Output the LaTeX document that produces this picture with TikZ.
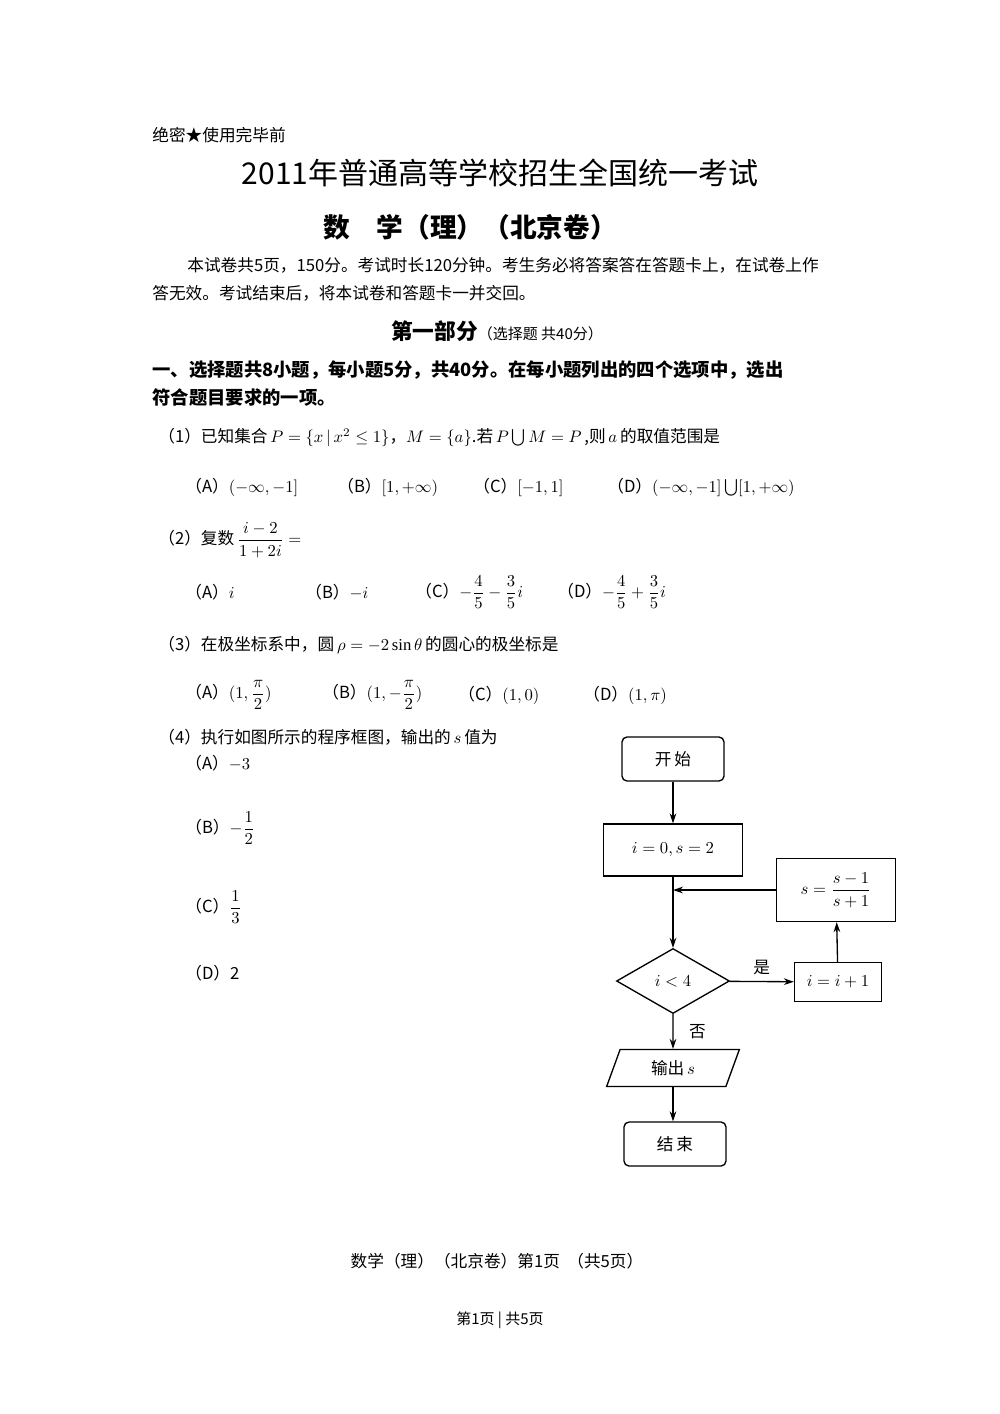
\documentclass[tikz,border=0pt]{standalone}
\usepackage{fontspec}
\usepackage{amsmath}
\setmainfont{Liberation Serif}
\newfontfamily\cjk{Noto Sans CJK SC}
\usetikzlibrary{shapes.geometric,arrows.meta}
\begin{document}
\begin{tikzpicture}[x=0.6pt,y=-0.6pt,
  txt/.style={anchor=west,inner sep=0,font=\fontsize{10}{12}\selectfont\cjk},
  box/.style={draw,thick,minimum width=#1*0.6pt,inner sep=0,font=\fontsize{10}{12}\selectfont\cjk},
  arr/.style={thick,-{Stealth[length=6pt,width=4pt]}}]
\useasboundingbox (0,0) rectangle (1000,1414);
\fill[white] (0,0) rectangle (1000,1414);
\node[txt] (h0) at (152,135) {绝密★使用完毕前};
\node[inner sep=0,font=\fontsize{18}{22}\selectfont\cjk] (h1) at (500,173) {2011年普通高等学校招生全国统一考试};
\node[inner sep=0,font=\fontsize{16}{20}\selectfont\cjk\bfseries] (h2) at (470,227) {数\hspace{1em}学（理）（北京卷）};
\node[txt] (p1) at (187,265) {本试卷共5页，150分。考试时长120分钟。考生务必将答案答在答题卡上，在试卷上作};
\node[txt] (p2) at (152,293) {答无效。考试结束后，将本试卷和答题卡一并交回。};
\node[inner sep=0] (s1) at (497,331) {{\fontsize{13}{15}\selectfont\cjk\bfseries 第一部分}{\fontsize{9}{11}\selectfont\cjk（选择题 共40分）}};
\node[txt,font=\fontsize{11}{13}\selectfont\cjk\bfseries] (b1) at (152,370) {一、选择题共8小题，每小题5分，共40分。在每小题列出的四个选项中，选出};
\node[txt,font=\fontsize{11}{13}\selectfont\cjk\bfseries] (b2) at (152,398) {符合题目要求的一项。};
% Q1
\node[txt] (q1) at (158,437) {（1）已知集合\,$P=\{x\,|\,x^2\le 1\}$，$M=\{a\}$.若\,$P\bigcup M=P$\,,则\,$a$\,的取值范围是};
\node[txt] (q1a) at (185,487) {（A）$(-\infty,-1]$};
\node[txt] (q1b) at (337,487) {（B）$[1,+\infty)$};
\node[txt] (q1c) at (473,487) {（C）$[-1,1]$};
\node[txt] (q1d) at (607,487) {（D）$(-\infty,-1]\bigcup[1,+\infty)$};
% Q2
\node[txt] (q2) at (158,540) {（2）复数\,$\dfrac{i-2}{1+2i}=$};
\node[txt] (q2a) at (185,592) {（A）$i$};
\node[txt] (q2b) at (305,592) {（B）$-i$};
\node[txt] (q2c) at (415,592) {（C）$-\dfrac{4}{5}-\dfrac{3}{5}i$};
\node[txt] (q2d) at (557,592) {（D）$-\dfrac{4}{5}+\dfrac{3}{5}i$};
% Q3
\node[txt] (q3) at (158,645) {（3）在极坐标系中，圆\,$\rho=-2\sin\theta$\,的圆心的极坐标是};
\node[txt] (q3a) at (185,695) {（A）$(1,\dfrac{\pi}{2})$};
\node[txt] (q3b) at (322,695) {（B）$(1,-\dfrac{\pi}{2})$};
\node[txt] (q3c) at (458,695) {（C）$(1,0)$};
\node[txt] (q3d) at (583,695) {（D）$(1,\pi)$};
% Q4
\node[txt] (q4) at (158,737) {（4）执行如图所示的程序框图，输出的\,$s$\,值为};
\node[txt] (q4a) at (185,763) {（A）$-3$};
\node[txt] (q4b) at (185,828) {（B）$-\dfrac{1}{2}$};
\node[txt] (q4c) at (185,907) {（C）$\dfrac{1}{3}$};
\node[txt] (q4d) at (185,973) {（D）2};
% flowchart
\node[box=102,minimum height=26.4pt,rounded corners=3pt] (st) at (673,759) {开\,始};
\node[box=139,minimum height=31.2pt] (ini) at (673,850) {$i=0,s=2$};
\node[box=119,minimum height=37.8pt] (up) at (836,890) {$s=\dfrac{s-1}{s+1}$};
\node[draw,thick,diamond,aspect=1.75,minimum width=67.8pt,minimum height=39pt,inner sep=0] (dia) at (673,981) {$i<4$};
\node[box=87,minimum height=23.4pt] (inc) at (838,982) {$i=i+1$};
\node[draw,thick,trapezium,trapezium left angle=70,trapezium right angle=110,minimum width=75.6pt,minimum height=22.2pt,inner sep=0,font=\fontsize{10}{12}\selectfont\cjk] (out) at (673,1068) {输出\,$s$};
\node[box=102,minimum height=26.4pt,rounded corners=3pt] (en) at (675,1144) {结\,束};
\coordinate (j) at (673,890);
\draw[arr] (st) -- (ini);
\draw[arr] (ini) -- (dia);
\draw[arr] (up) -- (j);
\draw[arr] (inc) -- (up);
\draw[arr] (dia) -- node[above,font=\fontsize{10}{12}\selectfont\cjk]{是} (inc);
\draw[arr] (dia) -- node[right,xshift=6pt,font=\fontsize{10}{12}\selectfont\cjk]{否} (out);
\draw[arr] (out) -- (en.north -| out);
% footer
\node[inner sep=0,font=\fontsize{10}{12}\selectfont\cjk] (f1) at (497,1261) {数学（理）（北京卷）第1页\ \ （共5页）};
\node[inner sep=0,font=\fontsize{9}{11}\selectfont\cjk] (f2) at (500,1320) {第1页 | 共5页};
\end{tikzpicture}
\end{document}
